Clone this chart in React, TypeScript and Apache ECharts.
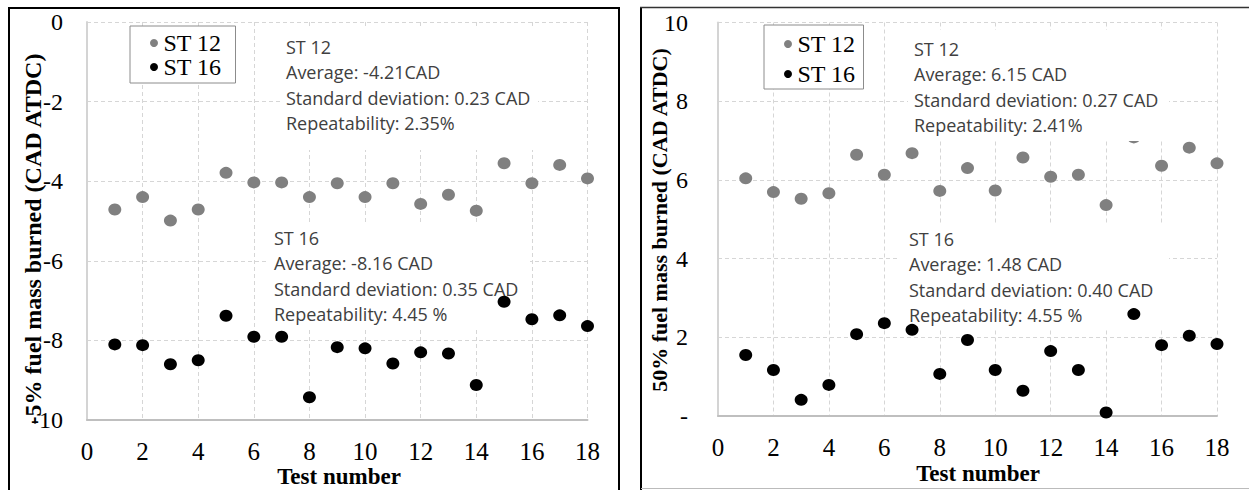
import React, { useEffect, useRef } from "react";
import * as echarts from "echarts";

const testNumbers = [1, 2, 3, 4, 5, 6, 7, 8, 9, 10, 11, 12, 13, 14, 15, 16, 17, 18];
const left12 = [-4.71, -4.4, -4.99, -4.71, -3.79, -4.03, -4.03, -4.4, -4.05, -4.4, -4.05, -4.57, -4.34, -4.74, -3.55, -4.05, -3.59, -3.93];
const left16 = [-8.1, -8.12, -8.6, -8.5, -7.38, -7.91, -7.91, -9.43, -8.17, -8.2, -8.58, -8.3, -8.33, -9.12, -7.03, -7.47, -7.37, -7.64];
const right12 = [6.04, 5.69, 5.52, 5.66, 6.64, 6.13, 6.68, 5.72, 6.3, 5.73, 6.57, 6.08, 6.13, 5.36, 7.08, 6.36, 6.82, 6.42];
const right16 = [1.55, 1.17, 0.41, 0.79, 2.08, 2.36, 2.19, 1.07, 1.93, 1.17, 0.64, 1.65, 1.17, 0.09, 2.59, 1.8, 2.04, 1.83];

const seriesNames = ["ST 12", "ST 16"];
const leftYTitle = "-5% fuel mass burned (CAD ATDC)";
const rightYTitle = "50% fuel mass burned (CAD ATDC)";
const xTitle = "Test number";
const leftNote12 = ["ST 12", "Average: -4.21CAD", "Standard deviation: 0.23 CAD", "Repeatability: 2.35%"];
const leftNote16 = ["ST 16", "Average: -8.16 CAD", "Standard deviation: 0.35 CAD", "Repeatability: 4.45 %"];
const rightNote12 = ["ST 12", "Average: 6.15 CAD", "Standard deviation: 0.27 CAD", "Repeatability: 2.41%"];
const rightNote16 = ["ST 16", "Average: 1.48 CAD", "Standard deviation: 0.40 CAD", "Repeatability: 4.55 %"];

const SERIF = '"Liberation Serif", "Times New Roman", serif';
const SANS = '"Open Sans", "Noto Sans", sans-serif';
const GRAY = "#808080";
const BLACK = "#000000";

const pair = (ys: number[]) => testNumbers.map((x, i) => [x, ys[i]]);

function xAxisFor(gridIndex: number) {
  return {
    type: "value",
    gridIndex,
    min: 0,
    max: 18,
    interval: 2,
    axisLine: { show: true, onZero: false, lineStyle: { color: "#bfbfbf", width: 2 } },
    axisTick: { show: false },
    axisLabel: { fontFamily: SERIF, fontSize: 25, color: "#000", margin: 22, lineHeight: 18 },
    splitLine: { show: true, lineStyle: { color: "#d6d6d6", type: [4, 3], width: 1 } },
  };
}

function yAxisFor(gridIndex: number, min: number, max: number, margin: number, fmt?: (v: number) => string) {
  return {
    type: "value",
    gridIndex,
    min,
    max,
    interval: 2,
    axisLine: { show: true, onZero: false, lineStyle: { color: "#d4d4d4", width: 2 } },
    axisTick: { show: false },
    axisLabel: { fontFamily: SERIF, fontSize: 24, color: "#000", margin, formatter: fmt },
    splitLine: { show: true, lineStyle: { color: "#d6d6d6", type: [4, 3], width: 1 } },
  };
}

function note(lines: string[], x: number, y: number, box: number[], z: number) {
  return [
    {
      type: "rect",
      z,
      silent: true,
      shape: { x: box[0], y: box[1], width: box[2] - box[0], height: box[3] - box[1] },
      style: { fill: "#ffffff" },
    },
    {
      type: "text",
      z: z + 0.5,
      x,
      y,
      style: {
        text: lines.join("\n"),
        font: `18px ${SANS}`,
        fill: "#404040",
        lineHeight: 25.5,
        align: "left",
        verticalAlign: "top",
      },
    },
  ];
}

function line(x1: number, y1: number, x2: number, y2: number, color: string, w: number) {
  return {
    type: "line",
    z: 20,
    silent: true,
    shape: { x1, y1, x2, y2 },
    style: { stroke: color, lineWidth: w },
  };
}

function legendFor(left: number, top: number, padding: number[], gap: number) {
  return {
    left,
    top,
    orient: "vertical",
    data: seriesNames,
    icon: "circle",
    itemWidth: 9,
    itemHeight: 8,
    itemGap: gap,
    padding,
    borderColor: "#8c8c8c",
    borderWidth: 1,
    backgroundColor: "#ffffff",
    selectedMode: false,
    textStyle: { fontFamily: SERIF, fontSize: 24, color: "#000", lineHeight: 22 },
  };
}

function scatter(name: string, idx: number, ys: number[], color: string) {
  return {
    name,
    type: "scatter",
    xAxisIndex: idx,
    yAxisIndex: idx,
    data: pair(ys),
    symbolSize: [13, 12],
    itemStyle: { color, opacity: 1 },
    z: 2,
  };
}

export default function App() {
  const ref = useRef<HTMLDivElement>(null);
  useEffect(() => {
    if (!ref.current) return;
    const chart = echarts.init(ref.current, null, { renderer: "svg" });
    const option = {
      animation: false,
      backgroundColor: "#ffffff",
      grid: [
        { left: 87, top: 22, width: 500.5, height: 398 },
        { left: 718, top: 22.5, width: 499, height: 393.5 },
      ],
      xAxis: [xAxisFor(0), xAxisFor(1)],
      yAxis: [
        yAxisFor(0, -10, 0, 24),
        yAxisFor(1, 0, 10, 30, (v: number) => (v === 0 ? "-" : String(v))),
      ],
      legend: [legendFor(130, 26, [5, 14, 4, 20], 0), legendFor(764, 25, [7, 8, 3, 20], 6)],
      series: [
        scatter("ST 12", 0, left12, GRAY),
        scatter("ST 16", 0, left16, BLACK),
        scatter("ST 12", 1, right12, GRAY),
        scatter("ST 16", 1, right16, BLACK),
      ],
      graphic: [
        ...note(leftNote12, 286, 34, [282, 28, 538, 150], 10),
        ...note(leftNote16, 274, 225, [268, 224, 530, 330], 1),
        ...note(rightNote12, 914, 36, [908, 30, 1169, 141], 10),
        ...note(rightNote16, 909, 226, [900, 224, 1169, 330], 1),
        {
          type: "text",
          z: 15,
          x: 33,
          y: 239,
          rotation: Math.PI / 2,
          style: { text: leftYTitle, font: `bold 24px ${SERIF}`, fill: "#000", align: "center", verticalAlign: "middle" },
        },
        {
          type: "text",
          z: 15,
          x: 659,
          y: 220,
          rotation: Math.PI / 2,
          style: { text: rightYTitle, font: `bold 22px ${SERIF}`, fill: "#000", align: "center", verticalAlign: "middle" },
        },
        {
          type: "text",
          z: 15,
          x: 339,
          y: 476,
          style: { text: xTitle, font: `bold 23px ${SERIF}`, fill: "#000", align: "center", verticalAlign: "middle" },
        },
        {
          type: "text",
          z: 15,
          x: 978,
          y: 473,
          style: { text: xTitle, font: `bold 23px ${SERIF}`, fill: "#000", align: "center", verticalAlign: "middle" },
        },
        line(9, 7, 9, 490, "#000", 2),
        line(8, 8, 620, 8, "#000", 2),
        line(619, 7, 619, 490, "#000", 2),
        line(641, 7, 641, 490, "#000", 2),
        line(640, 7.5, 1249, 7.5, "#333", 1.5),
        line(641, 488.5, 1249, 488.5, "#bbbbbb", 1),
      ],
    };
    chart.setOption(option as any);
    return () => chart.dispose();
  }, []);
  return (
    <div
      ref={ref}
      style={{ position: "fixed", left: 0, top: 0, width: 1249, height: 490, background: "#fff" }}
    />
  );
}
